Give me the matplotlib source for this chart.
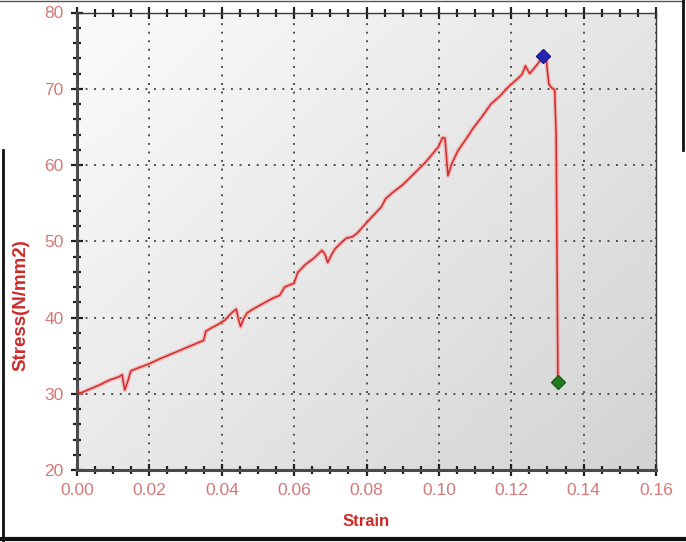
import numpy as np
import matplotlib
matplotlib.use("Agg")
import matplotlib.pyplot as plt
from matplotlib.lines import Line2D
from matplotlib.ticker import MultipleLocator, FormatStrFormatter

plt.rcParams['font.family'] = ['Liberation Sans', 'DejaVu Sans']

# Stress-strain curve
strain = [0.0000, 0.0003, 0.0010, 0.0030, 0.0060, 0.0090, 0.0115, 0.0125, 0.0128, 0.0132,
          0.0140, 0.0149, 0.0170, 0.0198, 0.0230, 0.0270, 0.0310, 0.0350, 0.0356, 0.0370,
          0.0390, 0.0410, 0.0425, 0.0440, 0.0446, 0.0452, 0.0460, 0.0470, 0.0490, 0.0513,
          0.0540, 0.0560, 0.0574, 0.0600, 0.0610, 0.0630, 0.0655, 0.0677, 0.0685, 0.0693,
          0.0703, 0.0713, 0.0730, 0.0744, 0.0762, 0.0775, 0.0792, 0.0815, 0.0841, 0.0853,
          0.0875, 0.0900, 0.0930, 0.0962, 0.0985, 0.0999, 0.1010, 0.1017, 0.1021, 0.1025,
          0.1035, 0.1053, 0.1075, 0.1096, 0.1120, 0.1144, 0.1170, 0.1193, 0.1215, 0.1230,
          0.1239, 0.1245, 0.1251, 0.1262, 0.1272, 0.1280, 0.1288, 0.1296, 0.1300, 0.1304,
          0.1312, 0.1320, 0.1324, 0.1326, 0.1329]
stress = [30.9, 30.2, 30.1, 30.5, 31.1, 31.8, 32.2, 32.5, 31.5, 30.5,
          31.6, 33.0, 33.4, 33.9, 34.6, 35.4, 36.2, 37.0, 38.2, 38.6,
          39.1, 39.7, 40.5, 41.1, 39.8, 38.8, 39.8, 40.6, 41.2, 41.8,
          42.5, 42.9, 44.0, 44.5, 45.9, 46.9, 47.8, 48.8, 48.3, 47.2,
          48.2, 49.0, 49.8, 50.4, 50.6, 51.1, 52.0, 53.2, 54.5, 55.6,
          56.5, 57.4, 58.8, 60.3, 61.6, 62.4, 63.6, 63.5, 61.0, 58.6,
          60.1, 61.9, 63.4, 64.9, 66.4, 68.0, 69.1, 70.3, 71.2, 71.9,
          73.0, 72.5, 72.0, 72.6, 73.2, 73.7, 74.3, 74.2, 72.3, 70.6,
          70.1, 69.9, 64.0, 50.8, 31.6]

max_point = (0.1288, 74.3)
break_point = (0.1330, 31.6)

xticks = [0.00, 0.02, 0.04, 0.06, 0.08, 0.10, 0.12, 0.14, 0.16]
yticks = [20, 30, 40, 50, 60, 70, 80]

W, H = 686, 542
fig = plt.figure(figsize=(W / 100, H / 100), dpi=100)
fig.patch.set_facecolor('white')
ax = fig.add_axes([77 / W, 1 - 470 / H, (656 - 77) / W, (470 - 12.5) / H])

# gradient background: light at top-left, grey at bottom-right
gx = np.linspace(0, 1, 200)
gy = np.linspace(0, 1, 200)
GX, GY = np.meshgrid(gx, gy)
grad = 0.985 - 0.16 * (0.55 * GX + 0.45 * GY)
ax.imshow(grad, cmap='gray', vmin=0, vmax=1, extent=[0, 0.16, 20, 80],
          aspect='auto', origin='upper', zorder=0, interpolation='bicubic')

ax.set_xlim(0, 0.16)
ax.set_ylim(20, 80)
ax.set_xticks(xticks)
ax.set_yticks(yticks)
ax.xaxis.set_minor_locator(MultipleLocator(0.005))
ax.yaxis.set_minor_locator(MultipleLocator(2))
ax.xaxis.set_major_formatter(FormatStrFormatter('%.2f'))

ax.grid(True, which='major', color='#505050', linestyle=(0, (1, 3.4)), linewidth=1.4, zorder=1)

# curve with soft halo
ax.plot(strain, stress, color='#f2a0a0', linewidth=3.0, alpha=0.7, zorder=2,
        solid_joinstyle='round')
ax.plot(strain, stress, color='#d42a2a', linewidth=1.1, zorder=3)
ax.plot([max_point[0]], [max_point[1]], marker='D', color='#2626b0', markersize=7,
        markeredgecolor='#1a1a90', zorder=4)
ax.plot([break_point[0]], [break_point[1]], marker='D', color='#207a20', markersize=7,
        markeredgecolor='#1a601a', zorder=4)

for s in ['left', 'bottom']:
    ax.spines[s].set_color('#4a4a4a')
    ax.spines[s].set_linewidth(2.2)
for s in ['top', 'right']:
    ax.spines[s].set_color('#3a3a3a')
    ax.spines[s].set_linewidth(1.0)

ax.tick_params(axis='both', which='major', direction='inout', length=9, width=1.6,
               color='#202020', labelsize=12.5, labelcolor='#d47878', pad=5)
ax.tick_params(axis='both', which='minor', direction='inout', length=6, width=1.6,
               color='#202020')
ax.tick_params(axis='x', which='both', top=True)

fig.text(366 / W, 1 - 521 / H, 'Strain', fontsize=12, fontweight='bold',
         color='#cc2a2a', ha='center', va='center')
fig.text(21 / W, 1 - 305 / H, 'Stress(N/mm2)', fontsize=13.5, fontweight='bold',
         color='#cc2a2a', ha='center', va='center', rotation=90)

# frame lines around the figure
def fl(x0, y0, x1, y1, lw, c):
    fig.add_artist(Line2D([x0 / W, x1 / W], [1 - y0 / H, 1 - y1 / H], color=c,
                          linewidth=lw, transform=fig.transFigure))

fl(0, 1, 684, 1, 1.0, '#555555')
fl(683, 0, 683, 150, 2.0, '#111111')
fl(3, 150, 3, 540, 2.0, '#111111')
fl(0, 539, 686, 539, 3.0, '#111111')

fig.savefig('out.png', dpi=100)
